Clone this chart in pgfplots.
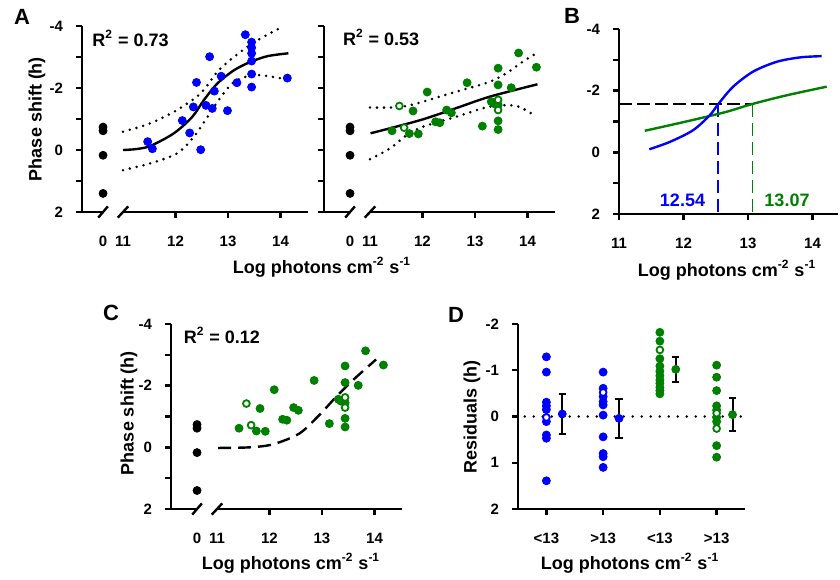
\documentclass[border=0pt]{standalone}
\usepackage{fontspec}
\setmainfont{Liberation Sans}
\usepackage{pgfplots}
\pgfplotsset{compat=1.18}

\definecolor{pblue}{RGB}{0,0,255}
\definecolor{pgreen}{RGB}{0,128,0}

\newcommand{\lab}{\bfseries\fontsize{9}{11}\selectfont}
\newcommand{\panel}{\bfseries\fontsize{11}{13}\selectfont}
\newcommand{\photons}{Log photons cm\textsuperscript{-2} s\textsuperscript{-1}}

\tikzset{
  axl/.style={black, line width=1.3pt},
  brk/.style={black, line width=1.2pt},
  band/.style={black, line width=1.4pt, line cap=round, dash pattern=on 0pt off 3.5pt},
}

\pgfplotsset{
  prism/.style={
    scale only axis, clip=false,
    y dir=reverse, ymin=-4, ymax=2,
    axis line style={draw=none},
    tick align=outside, major tick length=3pt,
    tick style={black, line width=1.2pt},
    xtick pos=left, xticklabel pos=left,
    ytick pos=left,
    ytick={-4,-3,...,2}, yticklabels={-4,,-2,,0,,2},
    ticklabel style={font=\bfseries\fontsize{7.5}{9}\selectfont},
    xticklabel style={yshift=-5.5pt},
    yticklabel style={xshift=-3pt},
  },
  broken/.style={
    prism,
    xtick={12,13,14}, xticklabels={12,13,14},
    extra x ticks={10.62,11}, extra x tick labels={0,11},
    extra x tick style={tick style={draw=none}},
  },
  bdot/.style={only marks, mark=*, mark size=2pt, pblue},
  gdot/.style={only marks, mark=*, mark size=2pt, pgreen},
  kdot/.style={only marks, mark=*, mark size=2pt, black},
  gopen/.style={only marks, mark=*, mark size=1.7pt, mark options={draw=pgreen, fill=white, line width=0.9pt}},
  bopen/.style={only marks, mark=*, mark size=1.7pt, mark options={draw=pblue, fill=white, line width=0.9pt}},
  ebar/.style={error bars/.cd, y dir=both, y explicit,
    error bar style={black, line width=1pt},
    error mark options={black, rotate=90, mark size=1.8pt, line width=1pt}},
}

% data
\pgfplotstableread{
x y
11.47 -0.27
11.56 -0.04
12.13 -0.95
12.27 -0.55
12.34 -1.39
12.40 -2.18
12.48 -0.01
12.58 -1.44
12.65 -3.01
12.70 -1.34
12.74 -1.90
12.87 -2.38
12.99 -1.27
13.17 -2.17
13.33 -3.72
13.45 -3.48
13.45 -3.30
13.45 -3.12
13.45 -2.87
13.45 -2.45
13.45 -2.03
14.13 -2.32
}\bluepts

\pgfplotstableread{
x y
11.42 -0.62
11.75 -0.53
11.82 -1.26
11.92 -0.52
12.09 -1.87
12.25 -0.91
12.33 -0.88
12.46 -1.29
12.55 -1.20
12.85 -2.17
13.14 -0.77
13.31 -1.56
13.36 -1.50
13.44 -2.64
13.44 -2.10
13.44 -1.45
13.44 -0.94
13.44 -0.66
13.69 -2.01
13.83 -3.13
14.17 -2.67
}\greenpts

\pgfplotstableread{
x y
11.56 -1.42
11.65 -0.72
13.44 -1.62
13.44 -1.29
}\greenopen

\pgfplotstableread{
x y
10.62 -0.74
10.62 -0.62
10.62 0.17
10.62 1.40
}\ctrl

\begin{document}
\begin{tikzpicture}
\path[use as bounding box] (0,0) rectangle (420pt,-289.5pt);

% ---------------- A, blue
\begin{axis}[broken, at={(97.45pt,-59.5pt)}, anchor=center,
  width=112.9pt, height=93pt, xmin=10.219, xmax=14.52]
\addplot[band, smooth] coordinates {(11.00,-0.59) (11.52,-0.86) (12.03,-1.29) (12.48,-1.83) (12.80,-2.53) (13.12,-3.01) (13.51,-3.49) (14.02,-3.96)};
\addplot[band, smooth] coordinates {(11.00,0.65) (11.52,0.43) (12.03,0.11) (12.35,-0.43) (12.61,-1.07) (12.87,-1.72) (13.12,-2.20) (13.51,-2.42) (14.02,-2.31)};
\addplot[bdot] table {\bluepts};
\addplot[kdot] table {\ctrl};
\addplot[black, line width=1.2pt, smooth] coordinates {(11.00,0.00) (11.25,-0.03) (11.52,-0.13) (11.97,-0.54) (12.32,-1.07) (12.54,-1.61) (12.80,-2.15) (13.12,-2.58) (13.44,-2.85) (13.76,-3.03) (14.15,-3.12)};
\draw[axl] (axis cs:10.219,-4) -- (axis cs:10.219,2);
\draw[axl] ([xshift=-2.5pt]axis cs:10.219,2) -- (axis cs:10.62,2);
\draw[axl] (axis cs:11,2) -- (axis cs:14.52,2);
\draw[brk] (axis cs:10.62,2) ++(-2.4pt,-2.8pt) -- ++(4.8pt,5.6pt);
\draw[brk] (axis cs:11,2) ++(-2.6pt,-2.8pt) -- ++(5.2pt,5.6pt);
\end{axis}

% ---------------- A, green
\begin{axis}[broken, at={(219.7pt,-59.5pt)}, anchor=center,
  width=115.4pt, height=93pt, xmin=10.124, xmax=14.52, yticklabels={}]
\addplot[band, smooth] coordinates {(11.00,-1.37) (11.40,-1.37) (11.70,-1.42) (12.01,-1.56) (12.64,-1.88) (13.28,-2.20) (13.60,-2.48) (13.91,-2.85) (14.17,-3.12)};
\addplot[band, smooth] coordinates {(11.00,0.30) (11.38,-0.05) (11.70,-0.48) (12.01,-0.75) (12.64,-1.07) (13.28,-1.40) (13.79,-1.42) (14.17,-1.07)};
\addplot[gdot] table {\greenpts};
\addplot[gopen] table {\greenopen};
\addplot[kdot] table {\ctrl};
\addplot[black, line width=1.2pt, smooth] coordinates {(11.01,-0.54) (11.38,-0.70) (12.01,-0.99) (12.64,-1.35) (13.28,-1.72) (14.19,-2.12)};
\draw[axl] (axis cs:10.124,-4) -- (axis cs:10.124,2);
\draw[axl] ([xshift=-2.5pt]axis cs:10.124,2) -- (axis cs:10.62,2);
\draw[axl] (axis cs:11,2) -- (axis cs:14.52,2);
\draw[brk] (axis cs:10.62,2) ++(-2.4pt,-2.8pt) -- ++(4.8pt,5.6pt);
\draw[brk] (axis cs:11,2) ++(-2.6pt,-2.8pt) -- ++(5.2pt,5.6pt);
\end{axis}

% ---------------- B
\begin{axis}[prism, at={(364.25pt,-60.75pt)}, anchor=center,
  width=109.5pt, height=92.5pt, xmin=11, xmax=14.395,
  xtick={11,12,13,14}, xticklabels={11,12,13,14}]
\addplot[black, line width=0.9pt, dash pattern=on 6.5pt off 2.5pt] coordinates {(11,-1.57) (13.07,-1.57)};
\addplot[pblue, line width=0.9pt, dash pattern=on 6.5pt off 3pt] coordinates {(12.54,-1.57) (12.54,2)};
\addplot[pgreen, line width=0.9pt, dash pattern=on 6.5pt off 3pt] coordinates {(13.07,-1.57) (13.07,2)};
\addplot[pgreen, line width=1.2pt, smooth] coordinates {(11.40,-0.70) (12.00,-0.98) (12.64,-1.30) (13.07,-1.57) (13.60,-1.85) (14.22,-2.13)};
\addplot[pblue, line width=1.2pt, smooth] coordinates {(11.47,-0.10) (11.79,-0.34) (12.15,-0.72) (12.41,-1.21) (12.54,-1.57) (12.77,-2.13) (13.08,-2.62) (13.45,-2.94) (13.81,-3.08) (14.14,-3.12)};
\draw[axl] (axis cs:11,-4) -- (axis cs:11,2);
\draw[axl] ([xshift=-2.5pt]axis cs:11,2) -- (axis cs:14.395,2);
\end{axis}

% ---------------- C
\begin{axis}[broken, at={(143.2pt,-208.25pt)}, anchor=center,
  width=115.4pt, height=92.5pt, xmin=10.124, xmax=14.52]
\addplot[gdot] table {\greenpts};
\addplot[gopen] table {\greenopen};
\addplot[kdot] table {\ctrl};
\addplot[black, line width=1.2pt, smooth, dash pattern=on 6.5pt off 3.5pt] coordinates {(11.02,0.02) (11.62,0.00) (12.07,-0.10) (12.57,-0.45) (12.95,-1.05) (13.27,-1.64) (13.59,-2.18) (14.03,-2.85)};
\draw[axl] (axis cs:10.124,-4) -- (axis cs:10.124,2);
\draw[axl] ([xshift=-2.5pt]axis cs:10.124,2) -- (axis cs:10.62,2);
\draw[axl] (axis cs:11,2) -- (axis cs:14.52,2);
\draw[brk] (axis cs:10.62,2) ++(-2.4pt,-2.8pt) -- ++(4.8pt,5.6pt);
\draw[brk] (axis cs:11,2) ++(-2.6pt,-2.8pt) -- ++(5.2pt,5.6pt);
\end{axis}

% ---------------- D
\begin{axis}[prism, at={(315.75pt,-208.25pt)}, anchor=center,
  width=113.5pt, height=92.5pt, xmin=0.5, xmax=4.5, ymin=-2, ymax=2,
  ytick={-2,-1,0,1,2}, yticklabels={-2,-1,0,1,2},
  xtick={1,2,3,4}, xticklabels={{<13},{>13},{<13},{>13}}]
\addplot[black, line width=1.4pt, line cap=round, dash pattern=on 0pt off 4.5pt] coordinates {(0.62,0) (4.47,0)};
\addplot[bdot] coordinates {(1,-1.29) (1,-0.96) (1,-0.31) (1,-0.23) (1,-0.15) (1,0.11) (1,0.40) (1,0.47) (1,1.39)};
\addplot[bopen] coordinates {(1,0.02)};
\addplot[bdot] coordinates {(2,-0.96) (2,-0.61) (2,-0.43) (2,-0.32) (2,-0.25) (2,-0.03) (2,0.44) (2,0.80) (2,0.87) (2,1.10)};
\addplot[bopen] coordinates {(2,-0.52)};
\addplot[gdot] coordinates {(3,-1.82) (3,-1.63) (3,-1.25) (3,-1.09) (3,-0.98) (3,-0.88) (3,-0.79) (3,-0.72) (3,-0.63) (3,-0.56) (3,-0.49)};
\addplot[gopen] coordinates {(3,-1.44)};
\addplot[gdot] coordinates {(4,-1.11) (4,-0.85) (4,-0.56) (4,-0.23) (4,-0.14) (4,0.02) (4,0.11) (4,0.63) (4,0.88)};
\addplot[gopen] coordinates {(4,-0.07) (4,0.26)};
\addplot[only marks, mark=*, mark size=2pt, pblue, ebar]
  coordinates {(1.28,-0.055) +- (0,0.435) (2.28,0.04) +- (0,0.42)};
\addplot[only marks, mark=*, mark size=2pt, pgreen, ebar]
  coordinates {(3.28,-1.02) +- (0,0.27) (4.28,-0.04) +- (0,0.35)};
\draw[axl] (axis cs:0.5,-2) -- (axis cs:0.5,2);
\draw[axl] ([xshift=-2.5pt]axis cs:0.5,2) -- (axis cs:4.5,2);
\end{axis}

% ---------------- text
\node[font=\panel] at (11pt,-8.5pt) {A};
\node[font=\panel] at (286pt,-8pt) {B};
\node[font=\panel] at (55.5pt,-156.5pt) {C};
\node[font=\panel] at (228pt,-157.5pt) {D};

\node[font=\lab, rotate=90] at (18.5pt,-59.5pt) {Phase shift (h)};
\node[font=\lab, rotate=90] at (64.5pt,-206.5pt) {Phase shift (h)};
\node[font=\lab, rotate=90] at (236pt,-208.5pt) {Residuals (h)};

\node[font=\lab, anchor=base] at (161pt,-136.5pt) {\photons};
\node[font=\lab, anchor=base] at (363.5pt,-138pt) {\photons};
\node[font=\lab, anchor=base] at (145.5pt,-284.5pt) {\photons};
\node[font=\lab, anchor=base] at (315pt,-284.5pt) {\photons};

\node[font=\lab, anchor=base west, inner sep=0pt] at (46pt,-23.3pt) {R\textsuperscript{2} = 0.73};
\node[font=\lab, anchor=base west, inner sep=0pt] at (171.3pt,-22.5pt) {R\textsuperscript{2} = 0.53};
\node[font=\lab, anchor=base west, inner sep=0pt] at (91.7pt,-171.7pt) {R\textsuperscript{2} = 0.12};

\node[font=\lab, text=pblue] at (341.25pt,-100.2pt) {12.54};
\node[font=\lab, text=pgreen] at (393.5pt,-100.2pt) {13.07};
\end{tikzpicture}
\end{document}
